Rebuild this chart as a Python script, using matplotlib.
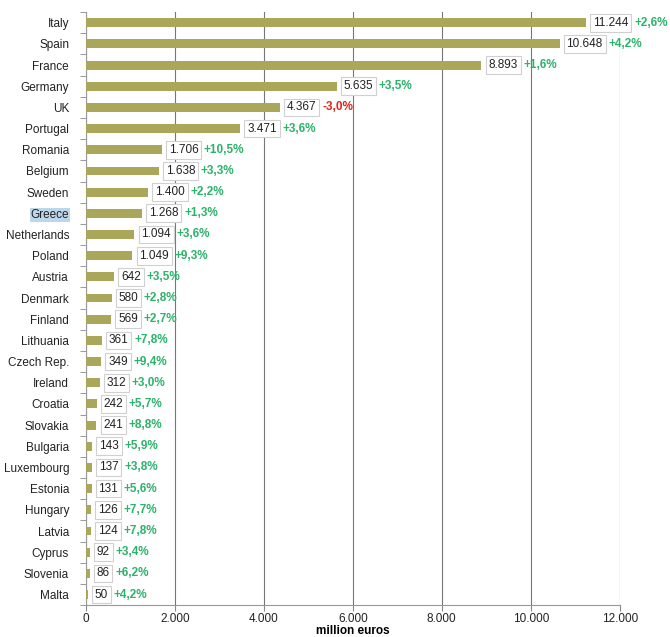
import matplotlib.pyplot as plt
import numpy as np

plt.rcParams['font.family'] = ['Liberation Sans', 'DejaVu Sans']

countries = ["Italy", "Spain", "France", "Germany", "UK", "Portugal", "Romania",
             "Belgium", "Sweden", "Greece", "Netherlands", "Poland", "Austria",
             "Denmark", "Finland", "Lithuania", "Czech Rep.", "Ireland", "Croatia",
             "Slovakia", "Bulgaria", "Luxembourg", "Estonia", "Hungary", "Latvia",
             "Cyprus", "Slovenia", "Malta"]
values = [11244, 10648, 8893, 5635, 4367, 3471, 1706, 1638, 1400, 1268, 1094, 1049,
          642, 580, 569, 361, 349, 312, 242, 241, 143, 137, 131, 126, 124, 92, 86, 50]
changes = [2.6, 4.2, 1.6, 3.5, -3.0, 3.6, 10.5, 3.3, 2.2, 1.3, 3.6, 9.3, 3.5, 2.8,
           2.7, 7.8, 9.4, 3.0, 5.7, 8.8, 5.9, 3.8, 5.6, 7.7, 7.8, 3.4, 6.2, 4.2]
xticks = [0, 2000, 4000, 6000, 8000, 10000, 12000]


def fmt_thousands(v):
    return "{:,}".format(v).replace(",", ".")


def fmt_change(c):
    s = ("+" if c > 0 else "") + "{:.1f}%".format(c)
    return s.replace(".", ",")


fig = plt.figure(figsize=(6.7, 6.37), dpi=100)
ax = fig.add_axes([0.128, 0.050, 0.797, 0.931])

y = np.arange(len(countries))
ax.barh(y, values, height=0.42, color="#aaa65a", zorder=3)
ax.set_ylim(len(countries) - 0.5, -0.5)
ax.set_xlim(0, 12000)

ax.set_yticks(y)
ax.set_yticklabels(countries, fontsize=8.5, color="#222222")
ax.set_yticks(np.arange(len(countries) + 1) - 0.5, minor=True)
ax.tick_params(axis="y", which="major", length=0, pad=12)
ax.tick_params(axis="y", which="minor", length=4, color="#888888", direction="out")
ax.get_yticklabels()[countries.index("Greece")].set_bbox(
    dict(facecolor="#bcd6ea", edgecolor="none", pad=0.5))

ax.set_xticks(xticks)
ax.set_xticklabels([fmt_thousands(t) for t in xticks], fontsize=8.5, color="#222222")
ax.tick_params(axis="x", length=4, color="#888888", pad=2)
ax.grid(axis="x", color="#777777", linewidth=0.8, zorder=0)
ax.set_xlabel("million euros", fontsize=8.5, fontweight="bold", labelpad=0)

for side in ["top", "right"]:
    ax.spines[side].set_visible(False)
for side in ["left", "bottom"]:
    ax.spines[side].set_color("#999999")

boxes = []
for yi, v in zip(y, values):
    t = ax.annotate(fmt_thousands(v), (v, yi), xytext=(5, 0), textcoords="offset points",
                    va="center", ha="left", fontsize=8.5, zorder=5, color="#222222",
                    bbox=dict(facecolor="white", edgecolor="#d0d0d0", pad=2, linewidth=0.8))
    boxes.append(t)

fig.canvas.draw()
renderer = fig.canvas.get_renderer()
for t, yi, v, c in zip(boxes, y, values, changes):
    ext = t.get_bbox_patch().get_window_extent(renderer)
    bar_px = ax.transData.transform((v, yi))[0]
    off = (ext.x1 - bar_px) * 72 / fig.dpi + 2
    ax.annotate(fmt_change(c), (v, yi), xytext=(off, 0), textcoords="offset points",
                va="center", ha="left", fontsize=8.5, fontweight="bold", zorder=5,
                color="#2bb36a" if c > 0 else "#e0241e")

fig.savefig("out.png", dpi=100)
